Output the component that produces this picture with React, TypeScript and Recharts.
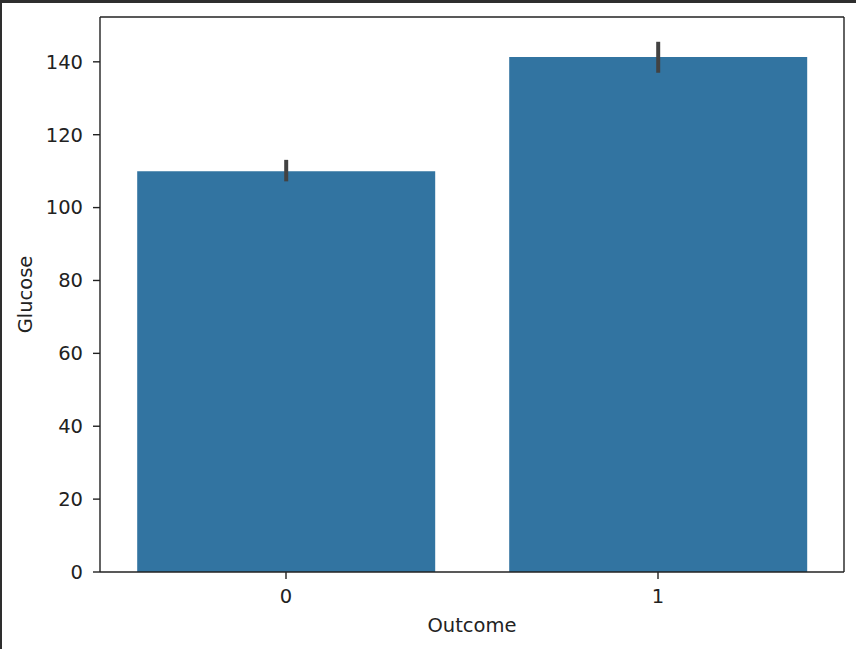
import { BarChart, Bar, XAxis, YAxis, ErrorBar, Label } from 'recharts';

const outcomes = ['0', '1'];
const glucoseMean = [110.0, 141.3];
const ciLow = [107.2, 137.0];
const ciHigh = [113.1, 145.5];
const yTicks = [0, 20, 40, 60, 80, 100, 120, 140];

const data = outcomes.map((o, i) => ({
  outcome: o,
  glucose: glucoseMean[i],
  ci: [glucoseMean[i] - ciLow[i], ciHigh[i] - glucoseMean[i]],
}));

const font = '"DejaVu Sans", sans-serif';
const ink = '#222';
const fs = 19.5;

// plain svg text so the font size is taken as given
function YTick(props: any) {
  const { x, y, payload } = props;
  return (
    <text x={x} y={y} dy="0.35em" textAnchor="end" fill={ink} fontSize={fs} fontFamily={font}>
      {payload.value}
    </text>
  );
}

function XTick(props: any) {
  const { x, y, payload } = props;
  return (
    <text x={x} y={y} dy="0.73em" textAnchor="middle" fill={ink} fontSize={fs} fontFamily={font}>
      {payload.value}
    </text>
  );
}

export default function App() {
  return (
    <div
      style={{
        position: 'fixed',
        top: 0,
        left: 0,
        width: 856,
        height: 649,
        background: '#fff',
        fontFamily: font,
      }}
    >
      <BarChart
        width={856}
        height={649}
        data={data}
        margin={{ top: 16, right: 11, left: 40, bottom: 47 }}
        barCategoryGap="10%"
      >
        <XAxis
          dataKey="outcome"
          tick={<XTick />}
          tickSize={7}
          tickMargin={10}
          height={30}
          stroke={ink}
          strokeWidth={1.4}
          tickLine={{ stroke: ink, strokeWidth: 1.4 }}
        >
          <Label
            value="Outcome"
            position="bottom"
            offset={16}
            fontSize={fs}
            fill={ink}
            style={{ fill: ink, fontSize: fs, fontFamily: font }}
          />
        </XAxis>
        <XAxis
          xAxisId="top"
          dataKey="outcome"
          orientation="top"
          tick={false}
          tickLine={false}
          height={1}
          stroke={ink}
          strokeWidth={1.4}
        />
        <YAxis
          domain={[0, 152.3]}
          ticks={yTicks}
          allowDataOverflow
          tick={<YTick />}
          tickSize={7}
          tickMargin={10}
          width={60}
          stroke={ink}
          strokeWidth={1.4}
          tickLine={{ stroke: ink, strokeWidth: 1.4 }}
        >
          <Label
            value="Glucose"
            angle={-90}
            position="insideLeft"
            offset={-15}
            fontSize={fs}
            fill={ink}
            style={{ fill: ink, fontSize: fs, fontFamily: font, textAnchor: 'middle' }}
          />
        </YAxis>
        <YAxis
          yAxisId="right"
          orientation="right"
          domain={[0, 152.3]}
          tick={false}
          tickLine={false}
          width={1}
          stroke={ink}
          strokeWidth={1.4}
        />
        <Bar dataKey="glucose" fill="#3274a1" isAnimationActive={false}>
          <ErrorBar
            dataKey="ci"
            width={0}
            stroke="#424242"
            strokeWidth={4}
            isAnimationActive={false}
          />
        </Bar>
      </BarChart>
      <div
        style={{
          position: 'absolute',
          top: 0,
          left: 0,
          width: 856,
          height: 3,
          background: '#2e2e2e',
        }}
      />
      <div
        style={{
          position: 'absolute',
          top: 0,
          left: 0,
          width: 2,
          height: 649,
          background: '#2e2e2e',
        }}
      />
    </div>
  );
}
